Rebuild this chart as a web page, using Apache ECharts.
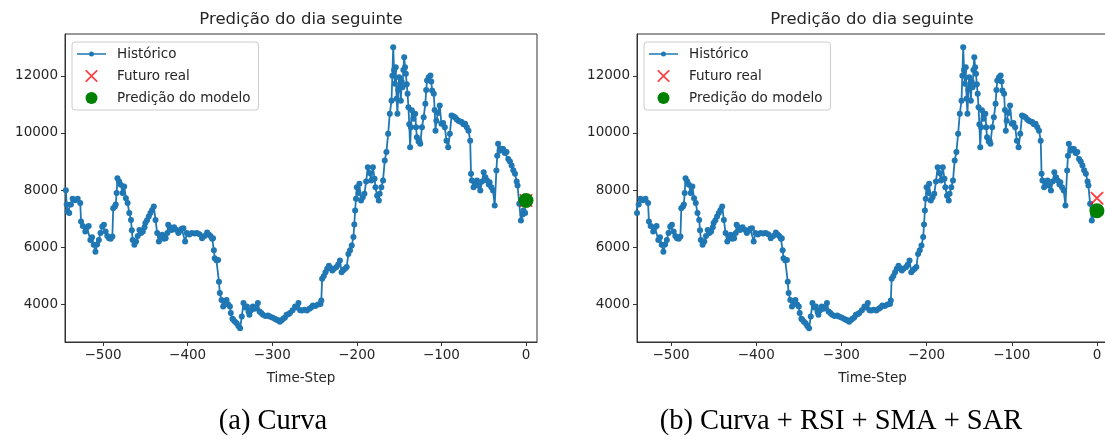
<!DOCTYPE html>
<html>
<head>
<meta charset="utf-8">
<script src="https://cdn.jsdelivr.net/npm/echarts@6/dist/echarts.min.js"></script>
<style>
  html, body { margin: 0; padding: 0; background: #fff; }
  #main { width: 1105px; height: 439px; }
</style>
</head>
<body>
<div id="main"></div>
<script>
// historical series (same in both panels)
var timeStep = [
  -544,-543,-542,-540,-538,-536,-533,-530,-527,-526,
  -524,-521,-519,-517,-515,-513,-511,-509,-507,-505,
  -503,-501,-499,-497,-495,-493,-491,-489,-488,-486,
  -485,-484,-483,-481,-479,-477,-475,-473,-471,-469,
  -467,-466,-465,-463,-461,-459,-457,-455,-453,-451,
  -450,-448,-446,-444,-442,-440,-438,-436,-434,-432,
  -430,-428,-426,-424,-423,-421,-419,-416,-413,-411,
  -409,-407,-405,-403,-401,-398,-395,-392,-389,-386,
  -383,-380,-377,-375,-373,-371,-370,-369,-368,-366,
  -364,-363,-362,-360,-358,-356,-354,-352,-350,-349,
  -347,-346,-344,-342,-340,-338,-336,-334,-332,-330,
  -328,-327,-325,-323,-321,-319,-317,-315,-313,-311,
  -308,-305,-303,-300,-297,-295,-293,-291,-289,-287,
  -285,-283,-281,-279,-276,-273,-271,-269,-267,-265,
  -262,-259,-256,-254,-252,-249,-246,-243,-242,-241,
  -239,-237,-235,-233,-231,-229,-227,-224,-222,-220,
  -218,-216,-214,-212,-210,-208,-206,-204,-203,-202,
  -201,-200,-198,-197,-195,-193,-191,-189,-187,-185,
  -183,-181,-179,-178,-176,-174,-173,-171,-169,-167,
  -165,-163,-161,-159,-158,-157,-156,-155,-154,-153,
  -152,-151,-150,-149,-148,-147,-146,-145,-144,-143,
  -142,-141,-140,-139,-138,-137,-136,-135,-133,-131,
  -130,-129,-127,-126,-125,-123,-121,-119,-118,-117,
  -115,-113,-112,-111,-109,-108,-107,-106,-104,-102,
  -100,-98,-96,-94,-92,-90,-88,-86,-84,-82,
  -80,-78,-76,-74,-72,-70,-68,-66,-65,-64,
  -62,-60,-58,-56,-54,-52,-50,-48,-46,-44,
  -43,-41,-39,-37,-35,-34,-33,-31,-29,-27,
  -25,-23,-21,-19,-17,-15,-13,-11,-10,-8,
  -6,-4,-3,-1
];
var historico = [
  8000,7500,7250,7200,7500,7700,7650,7700,7550,6900,
  6750,6550,6700,6750,6260,6350,6090,5850,6100,6260,
  6500,6730,6790,6550,6400,6320,6300,6380,7370,7430,
  7500,7900,8420,8300,8190,7900,8130,7720,7550,7200,
  6960,6600,6260,6090,6200,6400,6610,6500,6550,6700,
  6850,6950,7080,7200,7310,7430,6960,6500,6200,6350,
  6440,6300,6320,6500,6790,6700,6610,6700,6610,6500,
  6580,6650,6670,6200,6500,6450,6500,6480,6500,6460,
  6320,6400,6520,6450,6400,6300,6320,5900,5620,5550,
  5560,4800,4400,4160,3930,4100,4160,4000,3930,3700,
  3500,3470,3400,3350,3250,3170,3580,4050,3900,3930,
  3750,3640,3800,3930,3850,3900,4050,3760,3700,3640,
  3600,3620,3580,3550,3500,3470,3450,3400,3450,3500,
  3550,3640,3660,3700,3800,3930,3900,4050,3800,3790,
  3820,3790,3850,3900,3965,3950,4000,4020,4140,4900,
  5000,5130,5250,5360,5280,5190,5250,5310,5400,5540,
  5130,5200,5250,5310,5770,5900,6060,6360,6800,7290,
  7700,8100,7900,8220,7640,7750,7870,8300,8800,8600,
  8340,8800,8400,8100,7800,7640,7870,8100,8340,9040,
  9330,9970,10670,11130,12000,13000,12200,11720,12300,11200,
  10670,11500,11950,11600,11130,11800,11600,12200,12650,12300,
  12070,11700,11370,10900,10300,9500,10200,10790,10500,10670,
  10200,9850,9700,9730,9620,10200,10550,11020,11500,11830,
  11950,12010,11800,11480,11370,10800,10080,10430,10700,10960,
  10320,10350,10200,9730,9500,9970,10610,10580,10550,10480,
  10430,10400,10380,10300,10320,10200,10080,9730,8570,8340,
  8100,8200,8340,8150,7990,8300,8630,8450,8340,8200,
  8280,8100,7990,7460,8690,9200,9620,9380,9450,9440,
  9300,9330,9090,9000,8860,8700,8570,8300,8160,7520,
  6940,7150,7290,7200
];

// next-day point, per panel: (a) Curva, (b) Curva + RSI + SMA + SAR
var futuroStep = 0;
var futuroReal = [7640, 7720];
var predicao = [7640, 7280];

var titulo = 'Predição do dia seguinte';
var legenda = ['Histórico', 'Futuro real', 'Predição do modelo'];
var legendas = ['(a) Curva', '(b) Curva + RSI + SMA + SAR'];

var blue = '#1f77b4';
var axisColor = '#333';
var txt = '#262626';
var sans = 'DejaVu Sans';

var histData = timeStep.map(function (t, i) { return [t, historico[i]]; });

// plot boxes (right one runs past the page edge, like the reference)
var panels = [
  { left: 65,  width: 472, xMin: -545, center: 301, caption: 273 },
  { left: 637, width: 471, xMin: -540, center: 872, caption: 841 }
];

var crossPath = 'path://M0,0L1,0L5,4L9,0L10,0L10,1L6,5L10,9L10,10L9,10L5,6L1,10L0,10L0,9L4,5L0,1Z';
// legend handle: thin line with a small dot, in a 29x12 box
var lineDotPath = 'path://M0,0ZM29,12ZM0,5.3L29,5.3L29,6.7L0,6.7Z' +
  'M17,6A2.5,2.5 0 1 1 12,6A2.5,2.5 0 1 1 17,6Z';

var grid = [], xAxis = [], yAxis = [], series = [], legend = [], graphic = [];

panels.forEach(function (p, k) {
  grid.push({
    left: p.left, top: 34, width: p.width, height: 308,
    outerBoundsMode: 'none', containLabel: false,
    show: true, borderColor: axisColor, borderWidth: 1, backgroundColor: '#fff'
  });
  xAxis.push({
    type: 'value', gridIndex: k, min: p.xMin, max: 13, splitNumber: 5,
    name: 'Time-Step', nameLocation: 'middle', nameGap: 29,
    nameTextStyle: { color: txt, fontSize: 13.5, fontFamily: sans },
    axisLine: { show: true, onZero: false, lineStyle: { color: axisColor } },
    axisTick: { show: true, length: 4, lineStyle: { color: axisColor } },
    splitLine: { show: false },
    axisLabel: {
      color: txt, fontSize: 13.5, fontFamily: sans, margin: 6,
      showMinLabel: false, showMaxLabel: false,
      formatter: function (v) { return String(v).replace('-', '\u2212'); }
    }
  });
  yAxis.push({
    type: 'value', gridIndex: k, min: 2690, max: 13460, splitNumber: 5,
    axisLine: { show: true, onZero: false, lineStyle: { color: axisColor } },
    axisTick: { show: true, length: 4, lineStyle: { color: axisColor } },
    splitLine: { show: false },
    axisLabel: {
      color: txt, fontSize: 13.5, fontFamily: sans, margin: 7,
      showMinLabel: false, showMaxLabel: false,
      formatter: function (v) { return String(v); }
    }
  });
  series.push({
    name: legenda[0], type: 'line', xAxisIndex: k, yAxisIndex: k,
    data: histData, color: blue, z: 2,
    symbol: 'circle', symbolSize: 6, showAllSymbol: true,
    lineStyle: { width: 1.8, color: blue },
    itemStyle: { color: blue },
    emphasis: { disabled: true }
  });
  series.push({
    name: legenda[1], type: 'scatter', xAxisIndex: k, yAxisIndex: k,
    data: [[futuroStep, futuroReal[k]]], z: 3,
    symbol: crossPath, symbolSize: 13,
    itemStyle: { color: '#ff0000', opacity: 0.75 }
  });
  series.push({
    name: legenda[2], type: 'scatter', xAxisIndex: k, yAxisIndex: k,
    data: [[futuroStep, predicao[k]]], z: 4,
    symbol: 'circle', symbolSize: 15,
    itemStyle: { color: '#008000', opacity: 1 }
  });
  legend.push({
    data: [
      { name: legenda[0], icon: lineDotPath, itemStyle: { color: blue } },
      { name: legenda[1] },
      { name: legenda[2] }
    ],
    orient: 'vertical', left: p.left + 7, top: 42,
    padding: [5, 8, 5, 5], itemGap: 8, itemWidth: 29, itemHeight: 12,
    borderColor: '#ccc', borderWidth: 1, borderRadius: 3,
    backgroundColor: 'rgba(255,255,255,0.85)',
    selectedMode: false,
    textStyle: { color: txt, fontSize: 13.5, fontFamily: sans, padding: [0, 0, 0, 6] }
  });
  graphic.push({
    type: 'text', x: p.center, y: 20,
    style: { text: titulo, fill: txt, font: '16.5px "DejaVu Sans"', textAlign: 'center', textVerticalAlign: 'middle' }
  });
  graphic.push({
    type: 'text', x: p.caption, y: 422,
    style: { text: legendas[k], fill: '#000', font: '28.5px "Liberation Serif"', textAlign: 'center', textVerticalAlign: 'middle' }
  });
});

var chart = echarts.init(document.getElementById('main'));
chart.setOption({
  animation: false,
  backgroundColor: '#fff',
  grid: grid,
  xAxis: xAxis,
  yAxis: yAxis,
  legend: legend,
  series: series,
  graphic: graphic
});
</script>
</body>
</html>
